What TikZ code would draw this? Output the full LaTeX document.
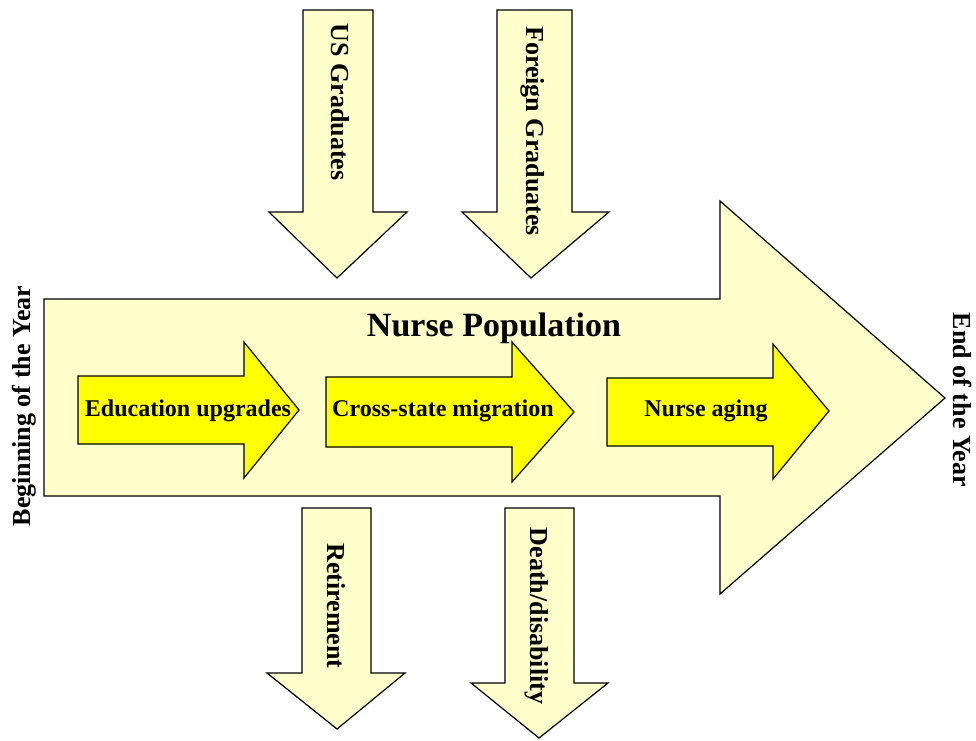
\documentclass[tikz,border=0pt]{standalone}
\usepackage{fontspec}
\setmainfont{Liberation Serif}
\usepackage{tikz}

\definecolor{paleyellow}{RGB}{255,255,204}
\definecolor{brightyellow}{RGB}{255,255,0}

\begin{document}
\begin{tikzpicture}[x=1pt,y=-1pt,
    arrow_pale/.style ={draw=black, line width=1.2pt, fill=paleyellow,
      line join=miter},
    arrow_bright/.style ={draw=black, line width=1.2pt, fill=brightyellow,
      line join=miter},
    label_flow/.style ={font=\bfseries\fontsize{24}{28}\selectfont,
      inner sep=0pt},
    label_side/.style ={font=\bfseries\fontsize{26}{30}\selectfont,
      inner sep=0pt},
    label_title/.style ={font=\bfseries\fontsize{34}{40}\selectfont,
      inner sep=0pt}]
    \useasboundingbox (0,0) rectangle (976,740);
    % the big population arrow
    \draw [arrow_pale] (44,299) -- (720,299) -- (720,201) -- (945,398)
      -- (720,594) -- (720,496) -- (44,496) -- cycle;
    \node [label_title] (pop) at (494,328) {Nurse Population};
    % inflows - top
    \draw [arrow_pale] (303,10) -- (373,10) -- (373,212) -- (407,212)
      -- (337,278) -- (269,212) -- (303,212) -- cycle;
    \draw [arrow_pale] (497,10) -- (572,10) -- (572,212) -- (609,212)
      -- (531,278) -- (462,212) -- (497,212) -- cycle;
    % outflows - bottom
    \draw [arrow_pale] (302,508) -- (371,508) -- (371,673) -- (405,673)
      -- (337,729) -- (267,673) -- (302,673) -- cycle;
    \draw [arrow_pale] (505,508) -- (574,508) -- (574,683) -- (608,683)
      -- (539,738) -- (471,683) -- (505,683) -- cycle;
    % transitions inside the population
    \draw [arrow_bright] (78,376) -- (244,376) -- (244,342) -- (299,410)
      -- (244,478) -- (244,444) -- (78,444) -- cycle;
    \draw [arrow_bright] (326,377) -- (512,377) -- (512,342) -- (574,412)
      -- (512,482) -- (512,447) -- (326,447) -- cycle;
    \draw [arrow_bright] (607,378) -- (773,378) -- (773,344) -- (829,411)
      -- (773,479) -- (773,446) -- (607,446) -- cycle;
    \node [label_flow] (edu) at (188,411) {Education upgrades};
    \node [label_flow] (cross) at (443,411) {Cross-state migration};
    \node [label_flow] (aging) at (706,411) {Nurse aging};
    % flow labels
    \node [label_side, rotate=-90] (usgrad) at (340,102) {US Graduates};
    \node [label_side, rotate=-90] (forgrad) at (533,131) {Foreign Graduates};
    \node [label_side, rotate=-90] (retire) at (336,606) {Retirement};
    \node [label_side, rotate=-90] (death) at (537,616) {Death/disability};
    % time labels
    \node [label_side, rotate=90] (begin) at (24,406) {Beginning of the Year};
    \node [label_side, rotate=-90] (end) at (963,400) {End of the Year};
\end{tikzpicture}
\end{document}
